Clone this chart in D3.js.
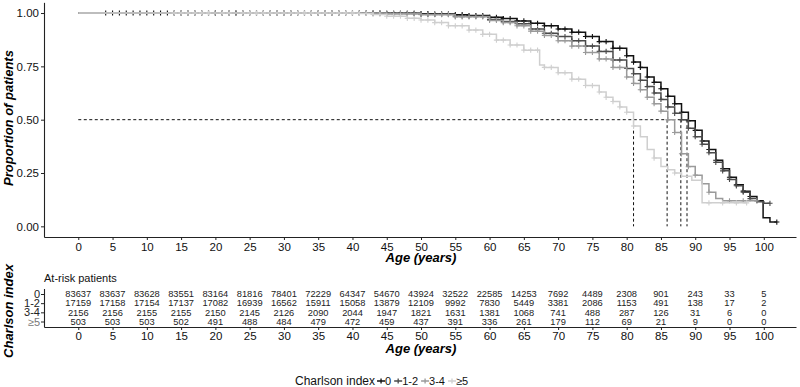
<!DOCTYPE html>
<html>
<head>
<meta charset="utf-8">
<script src="https://cdn.jsdelivr.net/npm/d3@7"></script>
<style>
  body { margin: 0; background: #fff; }
  text { font-family: "Liberation Sans", Arial, sans-serif; }
</style>
</head>
<body>
<svg id="chart" width="800" height="387"></svg>
<script>
var groups = ["0", "1-2", "3-4", "\u22655"];
var colors = ["#111111", "#4a4a4a", "#9a9a9a", "#cfcfcf"];

// survival steps: age where the curve steps, value after the step
var age0 = [0, 45, 50, 52, 55, 57, 60, 62, 64, 66, 68, 70, 72, 74, 76, 78, 80, 81, 82, 83, 84, 85, 86, 87, 88, 89, 90, 91, 92, 93, 94, 95, 96, 97, 98, 99, 99.9, 100.9, 101.9];
var surv0 = [1, 0.999, 0.997, 0.995, 0.992, 0.988, 0.98, 0.974, 0.963, 0.952, 0.94, 0.925, 0.91, 0.89, 0.866, 0.835, 0.8, 0.77, 0.745, 0.7, 0.675, 0.645, 0.61, 0.575, 0.535, 0.495, 0.45, 0.4, 0.36, 0.31, 0.27, 0.23, 0.195, 0.165, 0.14, 0.12, 0.04, 0.02, 0.02];

var age1 = [0, 45, 50, 55, 60, 62, 64, 66, 68, 70, 72, 74, 76, 78, 80, 81, 82, 83, 84, 85, 86, 87, 88, 89, 90, 91, 92, 93, 94, 95, 96, 97, 98, 99, 100, 100.9];
var surv1 = [1, 0.998, 0.994, 0.985, 0.97, 0.96, 0.95, 0.925, 0.905, 0.89, 0.87, 0.845, 0.82, 0.78, 0.74, 0.715, 0.685, 0.655, 0.625, 0.595, 0.56, 0.53, 0.5, 0.46, 0.42, 0.385, 0.345, 0.3, 0.26, 0.22, 0.19, 0.16, 0.13, 0.115, 0.108, 0.108];

var age2 = [0, 45, 50, 55, 60, 62, 64, 66, 68, 70, 72, 74, 76, 78, 80, 81, 82, 83, 84, 85, 86, 87, 88, 89, 90, 91, 92, 93, 94, 99];
var surv2 = [1, 0.997, 0.992, 0.982, 0.965, 0.955, 0.94, 0.915, 0.895, 0.87, 0.845, 0.815, 0.785, 0.745, 0.7, 0.67, 0.64, 0.605, 0.575, 0.54, 0.5, 0.44, 0.34, 0.28, 0.24, 0.2, 0.16, 0.13, 0.12, 0.12];

var age3 = [0, 41, 43, 45, 48, 50, 52, 54, 57, 59, 61, 63, 65, 67.3, 68, 70, 72, 74, 76, 77, 78, 79, 80, 81, 82, 83, 84, 85, 86, 87, 88, 89.5, 91, 97.5];
var surv3 = [1, 0.998, 0.993, 0.985, 0.975, 0.967, 0.955, 0.94, 0.92, 0.9, 0.873, 0.85, 0.826, 0.756, 0.745, 0.72, 0.69, 0.66, 0.63, 0.605, 0.585, 0.56, 0.535, 0.47, 0.42, 0.36, 0.32, 0.28, 0.265, 0.25, 0.235, 0.216, 0.11, 0.11];

// censoring ages per group
var cens0 = [4, 5, 6, 7, 8, 9, 10, 11, 12, 13, 14, 15, 16, 17, 18, 19, 20, 21, 22, 23, 24, 25, 26, 27, 28, 29, 30, 31, 32, 33, 34, 35, 36, 37, 38, 39, 40, 41, 42, 43, 44, 45, 46, 47, 48, 49, 50, 51, 52, 53, 54, 55, 56, 57, 58, 59, 60, 61, 62, 63, 64, 65, 66, 67, 68, 69, 70, 71, 72, 73, 74, 75, 76, 77, 78, 79, 80, 81, 82, 83, 84, 85, 86, 87, 88, 89, 90, 91, 92, 93, 94, 95, 96, 97, 98, 99, 101.9];
var cens1 = [14, 15, 16, 17, 18, 19, 20, 21, 22, 23, 24, 25, 26, 27, 28, 29, 30, 31, 32, 33, 34, 35, 36, 37, 38, 39, 40, 41, 42, 43, 44, 45, 46, 47, 48, 49, 50, 51, 52, 53, 54, 55, 56, 57, 58, 59, 60, 61, 62, 63, 64, 65, 66, 67, 68, 69, 70, 71, 72, 73, 74, 75, 76, 77, 78, 79, 80, 81, 82, 83, 84, 85, 86, 87, 88, 89, 90, 91, 92, 93, 94, 95, 96, 97, 98, 100.9];
var cens2 = [14, 15, 16, 17, 18, 19, 20, 21, 22, 23, 24, 25, 26, 27, 28, 29, 30, 31, 32, 33, 34, 35, 36, 37, 38, 39, 40, 41, 42, 43, 44, 45, 46, 47, 48, 49, 50, 51, 52, 53, 54, 55, 56, 57, 58, 59, 60, 61, 62, 63, 64, 65, 66, 67, 68, 69, 70, 71, 72, 73, 74, 75, 76, 77, 78, 79, 80, 81, 82, 83, 84, 85, 86, 87, 88, 89, 90, 92, 95, 97, 99];
var cens3 = [14, 15, 16, 17, 18, 19, 21, 22, 24, 25, 26, 27, 28, 29, 30, 31, 32, 33, 34, 35, 36, 37, 38, 39, 40, 41, 42, 43, 44, 45, 46, 47, 48, 49, 50, 51, 52, 53, 54, 55, 56, 57, 58, 59, 60, 61, 62, 63, 64, 65, 66, 67, 68, 69, 70, 71, 72, 73, 74, 75, 76, 77, 78, 79, 80, 81, 84, 87, 92, 94, 96, 97.5];

var medians = [88.8, 87.9, 85.9, 81.0];

// at-risk table
var riskAges = [0, 5, 10, 15, 20, 25, 30, 35, 40, 45, 50, 55, 60, 65, 70, 75, 80, 85, 90, 95, 100];
var risk0 = [83637, 83637, 83628, 83551, 83164, 81816, 78401, 72229, 64347, 54670, 43924, 32522, 22585, 14253, 7692, 4489, 2308, 901, 243, 33, 5];
var risk1 = [17159, 17158, 17154, 17137, 17082, 16939, 16562, 15911, 15058, 13879, 12109, 9992, 7830, 5449, 3381, 2086, 1153, 491, 138, 17, 2];
var risk2 = [2156, 2156, 2155, 2155, 2150, 2145, 2126, 2090, 2044, 1947, 1821, 1631, 1381, 1068, 741, 488, 287, 126, 31, 6, 0];
var risk3 = [503, 503, 503, 502, 491, 488, 484, 479, 472, 459, 437, 391, 336, 261, 179, 112, 69, 21, 9, 0, 0];

var series = [
  {ages: age0, surv: surv0, cens: cens0, risk: risk0},
  {ages: age1, surv: surv1, cens: cens1, risk: risk1},
  {ages: age2, surv: surv2, cens: cens2, risk: risk2},
  {ages: age3, surv: surv3, cens: cens3, risk: risk3}
];

var svg = d3.select("#chart");

var xScale = d3.scaleLinear().domain([-5, 104.7]).range([44, 796]);
var yScale = d3.scaleLinear().domain([-0.05, 1.05]).range([237, 2.35]);

function styleAxis(g) {
  g.selectAll(".domain").attr("stroke", "#222").attr("stroke-width", 1.1);
  g.selectAll(".tick line").attr("stroke", "#222");
  g.selectAll(".tick text").attr("fill", "#111").style("font-family", "'Liberation Sans', Arial, sans-serif");
}

// Survival panel axes
svg.append("g")
  .attr("transform", "translate(0,237)")
  .call(d3.axisBottom(xScale).tickValues(riskAges).tickSize(3).tickSizeOuter(0).tickPadding(3))
  .call(styleAxis)
  .selectAll("text").style("font-size", "11.5px");

svg.append("g")
  .attr("transform", "translate(44,0)")
  .call(d3.axisLeft(yScale).tickValues([0, 0.25, 0.5, 0.75, 1]).tickFormat(d3.format(".2f")).tickSize(3).tickSizeOuter(0).tickPadding(2))
  .call(styleAxis)
  .selectAll("text").style("font-size", "11.5px");

svg.append("text")
  .attr("x", 421).attr("y", 262)
  .attr("text-anchor", "middle")
  .style("font-size", "13px").style("font-weight", "bold").style("font-style", "italic")
  .text("Age (years)");

svg.append("text")
  .attr("transform", "translate(13,118) rotate(-90)")
  .attr("text-anchor", "middle")
  .style("font-size", "13px").style("font-weight", "bold").style("font-style", "italic")
  .text("Proportion of patients");

// median lines
var maxMedian = d3.max(medians);
svg.append("line")
  .attr("x1", xScale(0)).attr("x2", xScale(maxMedian))
  .attr("y1", yScale(0.5)).attr("y2", yScale(0.5))
  .attr("stroke", "#111").attr("stroke-width", 1).attr("stroke-dasharray", "3,2.5");
svg.selectAll(".median")
  .data(medians)
  .enter()
  .append("line")
  .attr("x1", function(d) { return xScale(d); })
  .attr("x2", function(d) { return xScale(d); })
  .attr("y1", yScale(0.5)).attr("y2", yScale(0))
  .attr("stroke", "#111").attr("stroke-width", 1).attr("stroke-dasharray", "3,2.5");

// step curves
var stepLine = d3.line()
  .x(function(d) { return xScale(d[0]); })
  .y(function(d) { return yScale(d[1]); })
  .curve(d3.curveStepAfter);

function survAt(s, a) {
  var i = d3.bisectRight(s.ages, a);
  return s.surv[Math.max(0, i - 1)];
}

series.forEach(function(s, gi) {
  var pts = s.ages.map(function(a, i) { return [a, s.surv[i]]; });
  svg.append("path")
    .attr("d", stepLine(pts))
    .attr("fill", "none")
    .attr("stroke", colors[gi])
    .attr("stroke-width", 1.5);

  svg.append("g").selectAll("path")
    .data(s.cens)
    .enter()
    .append("path")
    .attr("d", function(a) {
      var cx = xScale(a), cy = yScale(survAt(s, a));
      return "M" + (cx - 2.6) + "," + cy + "H" + (cx + 2.6) + "M" + cx + "," + (cy - 2.6) + "V" + (cy + 2.6);
    })
    .attr("stroke", colors[gi])
    .attr("stroke-width", 1.1);
});

// At-risk table
var rowScale = d3.scaleLinear().domain([0.4, 4.6]).range([327, 288.5]);

svg.append("text")
  .attr("x", 44).attr("y", 282)
  .style("font-size", "11px").attr("fill", "#111")
  .text("At-risk patients");

svg.append("g")
  .attr("transform", "translate(0,327)")
  .call(d3.axisBottom(xScale).tickValues(riskAges).tickSize(3).tickSizeOuter(0).tickPadding(2))
  .call(styleAxis)
  .selectAll("text").style("font-size", "11.5px");

svg.append("g")
  .attr("transform", "translate(44,0)")
  .call(d3.axisLeft(rowScale).tickValues([4, 3, 2, 1]).tickFormat(function(d) { return groups[4 - d]; }).tickSize(3).tickSizeOuter(0).tickPadding(1))
  .call(styleAxis)
  .selectAll("text").style("font-size", "11px").attr("fill", function(d) { return d === 1 ? "#777" : "#222"; });

series.forEach(function(s, gi) {
  svg.append("g").selectAll("text")
    .data(s.risk)
    .enter()
    .append("text")
    .attr("x", function(d, i) { return xScale(riskAges[i]); })
    .attr("y", rowScale(4 - gi))
    .attr("dy", "0.35em")
    .attr("text-anchor", "middle")
    .style("font-size", "9.3px")
    .attr("fill", "#222")
    .text(function(d) { return d; });
});

svg.append("text")
  .attr("x", 421).attr("y", 353)
  .attr("text-anchor", "middle")
  .style("font-size", "13px").style("font-weight", "bold").style("font-style", "italic")
  .text("Age (years)");

svg.append("text")
  .attr("transform", "translate(13,311) rotate(-90)")
  .attr("text-anchor", "middle")
  .style("font-size", "13px").style("font-weight", "bold").style("font-style", "italic")
  .text("Charlson index");

// Legend
var legend = svg.append("g").attr("transform", "translate(0,381)");
var title = legend.append("text")
  .attr("x", 295).attr("dy", "0.35em")
  .style("font-size", "12px").attr("fill", "#111")
  .text("Charlson index");
var kx = 295 + title.node().getComputedTextLength() + 6;
groups.forEach(function(g, gi) {
  legend.append("path")
    .attr("d", "M" + (kx - 4) + ",0H" + (kx + 4) + "M" + kx + ",-2.6V2.6")
    .attr("stroke", colors[gi]).attr("stroke-width", 1.3);
  var t = legend.append("text")
    .attr("x", kx + 4).attr("dy", "0.35em")
    .style("font-size", "11px").attr("fill", "#111")
    .text(g);
  kx = kx + 4 + t.node().getComputedTextLength() + 7;
});
</script>
</body>
</html>
